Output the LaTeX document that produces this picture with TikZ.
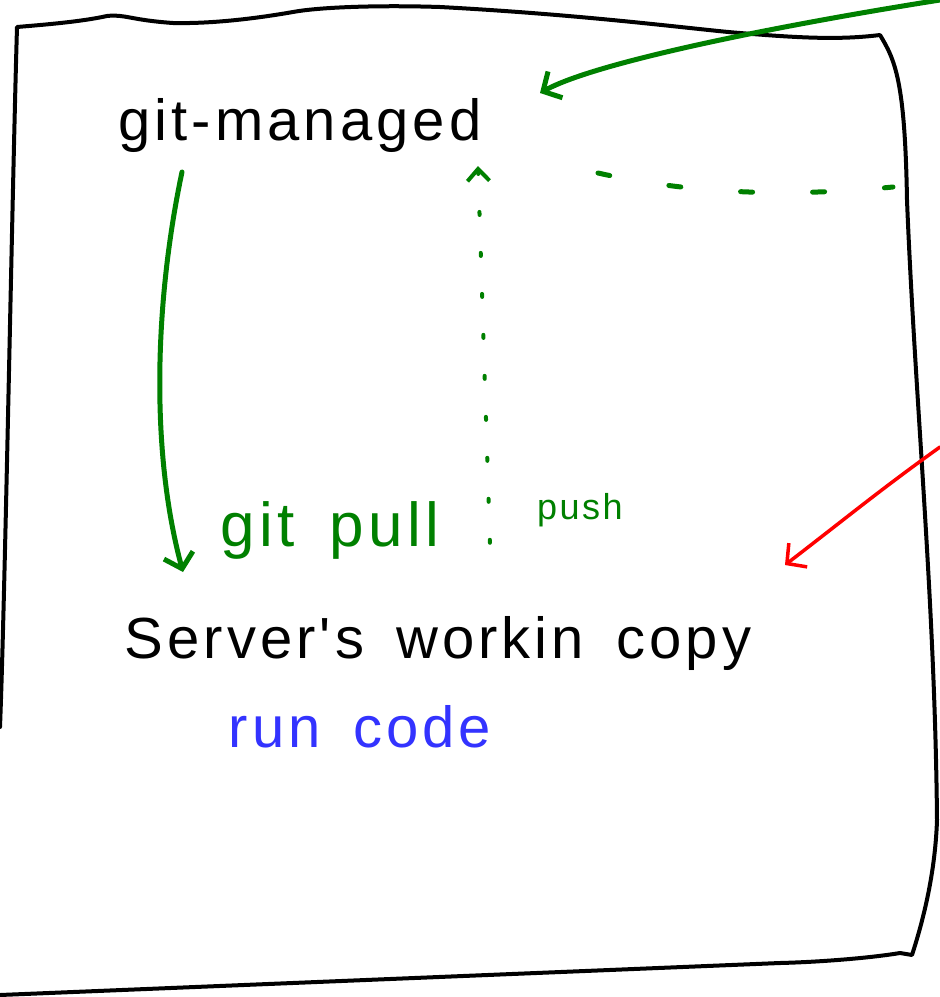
\documentclass[tikz,border=0pt]{standalone}
\usepackage{fontspec}
\setmainfont{Liberation Sans}
\newfontfamily\handfont[LetterSpace=7, WordSpace=1.6]{Liberation Sans}
\usetikzlibrary{arrows.meta}

\begin{document}
\begin{tikzpicture}[x=1pt, y=-1pt, line cap=round, line join=round,
		>={Straight Barb[length=14pt, width=30pt]},
		hand/.style={font=\handfont\fontsize{58}{58}\selectfont, inner sep=0pt}]
	\definecolor{gitgreen}{rgb}{0, 0.5, 0}
	\definecolor{runblue}{rgb}{0.2, 0.2, 1}
	\useasboundingbox (0,0) rectangle (940,997);

	% the server
	\draw[line width=4pt] (0,727) .. controls (5,600) and (12,200) .. (17,27)
		.. controls (40,25) and (80,22) .. (107,16) .. controls (125,14) and (130,20) .. (173,23)
		.. controls (220,24) and (270,16) .. (293,12) .. controls (320,7) and (380,5) .. (440,7)
		.. controls (590,15) and (700,30) .. (740,33) .. controls (800,38) and (840,40) .. (880,35)
		.. controls (895,60) and (905,80) .. (907,200) .. controls (915,400) and (935,600) .. (937,820)
		.. controls (935,880) and (920,930) .. (912,955) -- (900,953)
		.. controls (870,958) and (820,962) .. (780,963) -- (0,995);

	\node[hand] (managed) at (300,125) {git-managed};
	\node[hand] (working) at (438,643) {Server's workin copy};
	\node[hand, runblue] (run) at (360,727) {run code};
	\node[hand, gitgreen, font=\handfont\fontsize{62}{62}\selectfont] (pull) at (330,530) {git pull};
	\node[hand, gitgreen, font=\handfont\fontsize{36}{36}\selectfont] (push) at (580,510) {push};

	\coordinate (remote) at (940,0);
	\coordinate (arrive) at (540,93);
	\coordinate (pullfrom) at (182,172);
	\coordinate (pullto) at (183,572);
	\coordinate (pushfrom) at (490,545);
	\coordinate (pushto) at (478,166);
	\coordinate (dashfrom) at (598,173);
	\coordinate (dashto) at (893,187);
	\coordinate (staged) at (940,447);
	\coordinate (dropped) at (785,565);

	\begin{scope}[gitgreen, line width=5pt]
		\draw[->] (remote) .. controls (800,22) and (600,60) .. (arrive);
		\draw[->] (pullfrom) .. controls (155,300) and (150,450) .. (pullto);
		\draw[->, line width=4pt, dash pattern=on 3pt off 38pt, {Straight Barb[length=12pt, width=22pt]}-] (pushto) -- (pushfrom);
		\draw[dash pattern=on 12pt off 60pt] (dashfrom) .. controls (700,196) and (800,196) .. (dashto);
	\end{scope}
	\draw[red, line width=3.5pt, ->] (staged) .. controls (880,490) and (850,515) .. (dropped);
\end{tikzpicture}
\end{document}
